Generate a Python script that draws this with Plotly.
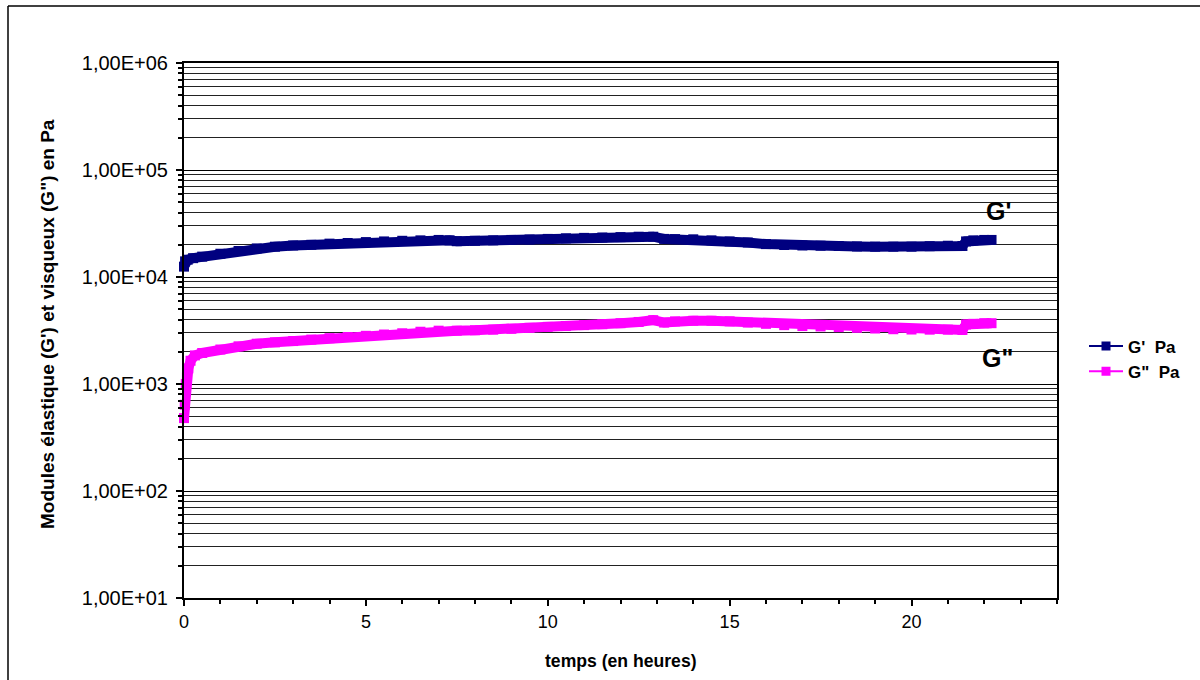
import plotly.graph_objects as go

# ---- data ----
t_gp = [0.0, 0.03, 0.1, 0.25, 0.5, 1.0, 1.5, 2.0, 2.5, 3.0, 3.5, 4.0, 4.5, 5.0, 5.5, 6.0,
        6.5, 7.0, 7.3, 7.5, 8.0, 8.5, 9.0, 9.5, 10.0, 10.5, 11.0, 11.5, 12.0, 12.5, 12.9,
        13.2, 13.5, 14.0, 14.5, 15.0, 15.5, 16.0, 16.5, 17.0, 17.5, 18.0, 18.5, 19.0, 19.5,
        20.0, 20.5, 21.0, 21.4, 21.5, 21.7, 22.0, 22.2]
gp = [12500, 14000, 14500, 15000, 15500, 16500, 17500, 18500, 19200, 19700, 20000, 20500,
      20800, 21200, 21500, 21800, 22000, 22200, 22000, 21600, 21800, 22000, 22200, 22400,
      22700, 23000, 23200, 23400, 23600, 23800, 23800, 22700, 22600, 22500, 22000, 21500,
      21000, 20300, 19900, 19700, 19600, 19500, 19300, 19200, 19200, 19200, 19400, 19600,
      19500, 21500, 22000, 22200, 22200]

t_gpp = [0.0, 0.02, 0.05, 0.08, 0.12, 0.18, 0.3, 0.5, 1.0, 1.5, 2.0, 2.5, 3.0, 3.5, 4.0,
         4.5, 5.0, 5.5, 6.0, 6.5, 7.0, 7.5, 8.0, 8.5, 9.0, 9.5, 10.0, 10.5, 11.0, 11.5,
         12.0, 12.5, 12.9, 13.2, 13.5, 14.0, 14.5, 15.0, 15.5, 16.0, 16.5, 17.0,
         17.5, 18.0, 18.5, 19.0, 19.5, 20.0, 20.5, 21.0, 21.4, 21.5, 21.7, 22.0, 22.2]
gpp = [480, 640, 1000, 1150, 1400, 1650, 1850, 1950, 2100, 2250, 2380, 2450, 2520, 2600,
       2680, 2750, 2820, 2900, 2980, 3080, 3150, 3150, 3180, 3220, 3280, 3350, 3420, 3480,
       3550, 3620, 3700, 3800, 3950, 3750, 3850, 3900, 3900, 3850, 3750, 3650, 3550,
       3480, 3450, 3400, 3350, 3300, 3250, 3230, 3220, 3220, 3200, 3600, 3650, 3700, 3700]

y_tickvals = [1e1, 1e2, 1e3, 1e4, 1e5, 1e6]
y_ticktext = ["1,00E+01", "1,00E+02", "1,00E+03", "1,00E+04", "1,00E+05", "1,00E+06"]
y_minor = [m * 10 ** d for d in range(1, 6) for m in range(2, 10)]
x_tickvals = [0, 5, 10, 15, 20]
x_ticktext = ["0", "5", "10", "15", "20"]

FONT = "Arial, Liberation Sans, sans-serif"
NAVY = "#000080"
MAGENTA = "#FF00FF"

fig = go.Figure()
fig.add_trace(go.Scatter(x=t_gp, y=gp, mode="lines+markers",
                         line=dict(color=NAVY, width=10),
                         marker=dict(symbol="square", size=10, color=NAVY),
                         showlegend=False, cliponaxis=False))
fig.add_trace(go.Scatter(x=t_gpp, y=gpp, mode="lines+markers",
                         line=dict(color=MAGENTA, width=10),
                         marker=dict(symbol="square", size=10, color=MAGENTA),
                         showlegend=False, cliponaxis=False))
# legend entries
fig.add_trace(go.Scatter(x=[None], y=[None], mode="lines+markers", name="G'  Pa",
                         line=dict(color=NAVY, width=2),
                         marker=dict(symbol="square", size=9, color=NAVY)))
fig.add_trace(go.Scatter(x=[None], y=[None], mode="lines+markers", name='G"  Pa',
                         line=dict(color=MAGENTA, width=2),
                         marker=dict(symbol="square", size=9, color=MAGENTA)))

W, H = 1200, 680
L, R, T, B = 184, 143, 63, 82
pw, ph = W - L - R, H - T - B


def px_x(px):
    return (px - L) / pw


def px_y(py):
    return (H - B - py) / ph


fig.update_layout(
    width=W, height=H,
    margin=dict(l=L, r=R, t=T, b=B, pad=0),
    paper_bgcolor="white", plot_bgcolor="white",
    font=dict(family=FONT, color="black"),
    legend=dict(x=px_x(1084), y=px_y(359), xanchor="left", yanchor="middle",
                font=dict(family=FONT, size=17, weight="bold"), itemwidth=34,
                bgcolor="rgba(0,0,0,0)", tracegroupgap=0),
    xaxis=dict(range=[0, 24], tickvals=x_tickvals, ticktext=x_ticktext,
               ticks="outside", ticklen=6, tickwidth=2, tickcolor="black",
               minor=dict(dtick=1, tick0=0, ticks="outside", ticklen=4, tickwidth=2,
                          tickcolor="black", showgrid=False),
               showgrid=False, zeroline=False, showline=True, linecolor="black",
               linewidth=2, mirror=True, tickfont=dict(size=18, family=FONT)),
    yaxis=dict(type="log", range=[1, 6], tickvals=y_tickvals, ticktext=y_ticktext,
               ticks="outside", ticklen=6, tickwidth=2, tickcolor="black",
               ticklabelstandoff=4,
               showgrid=True, gridcolor="black", gridwidth=1,
               minor=dict(tickvals=y_minor, ticks="outside", ticklen=4, tickwidth=2,
                          tickcolor="black", showgrid=True, gridcolor="#222",
                          gridwidth=1),
               zeroline=False, showline=True, linecolor="black", linewidth=2,
               mirror=True, tickfont=dict(size=20, family=FONT)),
    annotations=[
        dict(text="temps (en heures)", xref="paper", yref="paper", x=px_x(621),
             y=px_y(661), showarrow=False, xanchor="center", yanchor="middle",
             font=dict(size=17.6, family=FONT, weight="bold")),
        dict(text='Modules élastique (G\') et visqueux (G") en Pa', xref="paper",
             yref="paper", x=px_x(47), y=px_y(324), showarrow=False, textangle=-90,
             xanchor="center", yanchor="middle",
             font=dict(size=19, family=FONT, weight="bold")),
        dict(text="G'", xref="paper", yref="paper", x=px_x(998), y=px_y(211),
             showarrow=False, xanchor="center", yanchor="middle",
             font=dict(size=25, family=FONT, weight="bold")),
        dict(text='G"', xref="paper", yref="paper", x=px_x(997), y=px_y(358),
             showarrow=False, xanchor="center", yanchor="middle",
             font=dict(size=25, family=FONT, weight="bold")),
    ],
    shapes=[
        dict(type="line", xref="paper", yref="paper", x0=px_x(8), x1=px_x(1200),
             y0=px_y(6), y1=px_y(6), line=dict(color="black", width=1.5)),
        dict(type="line", xref="paper", yref="paper", x0=px_x(8), x1=px_x(8),
             y0=px_y(6), y1=px_y(680), line=dict(color="black", width=1.5)),
    ],
)

fig.write_html("out.html", config={"displayModeBar": False},
               post_script="document.body.style.margin='0';document.body.style.overflow='hidden';")
